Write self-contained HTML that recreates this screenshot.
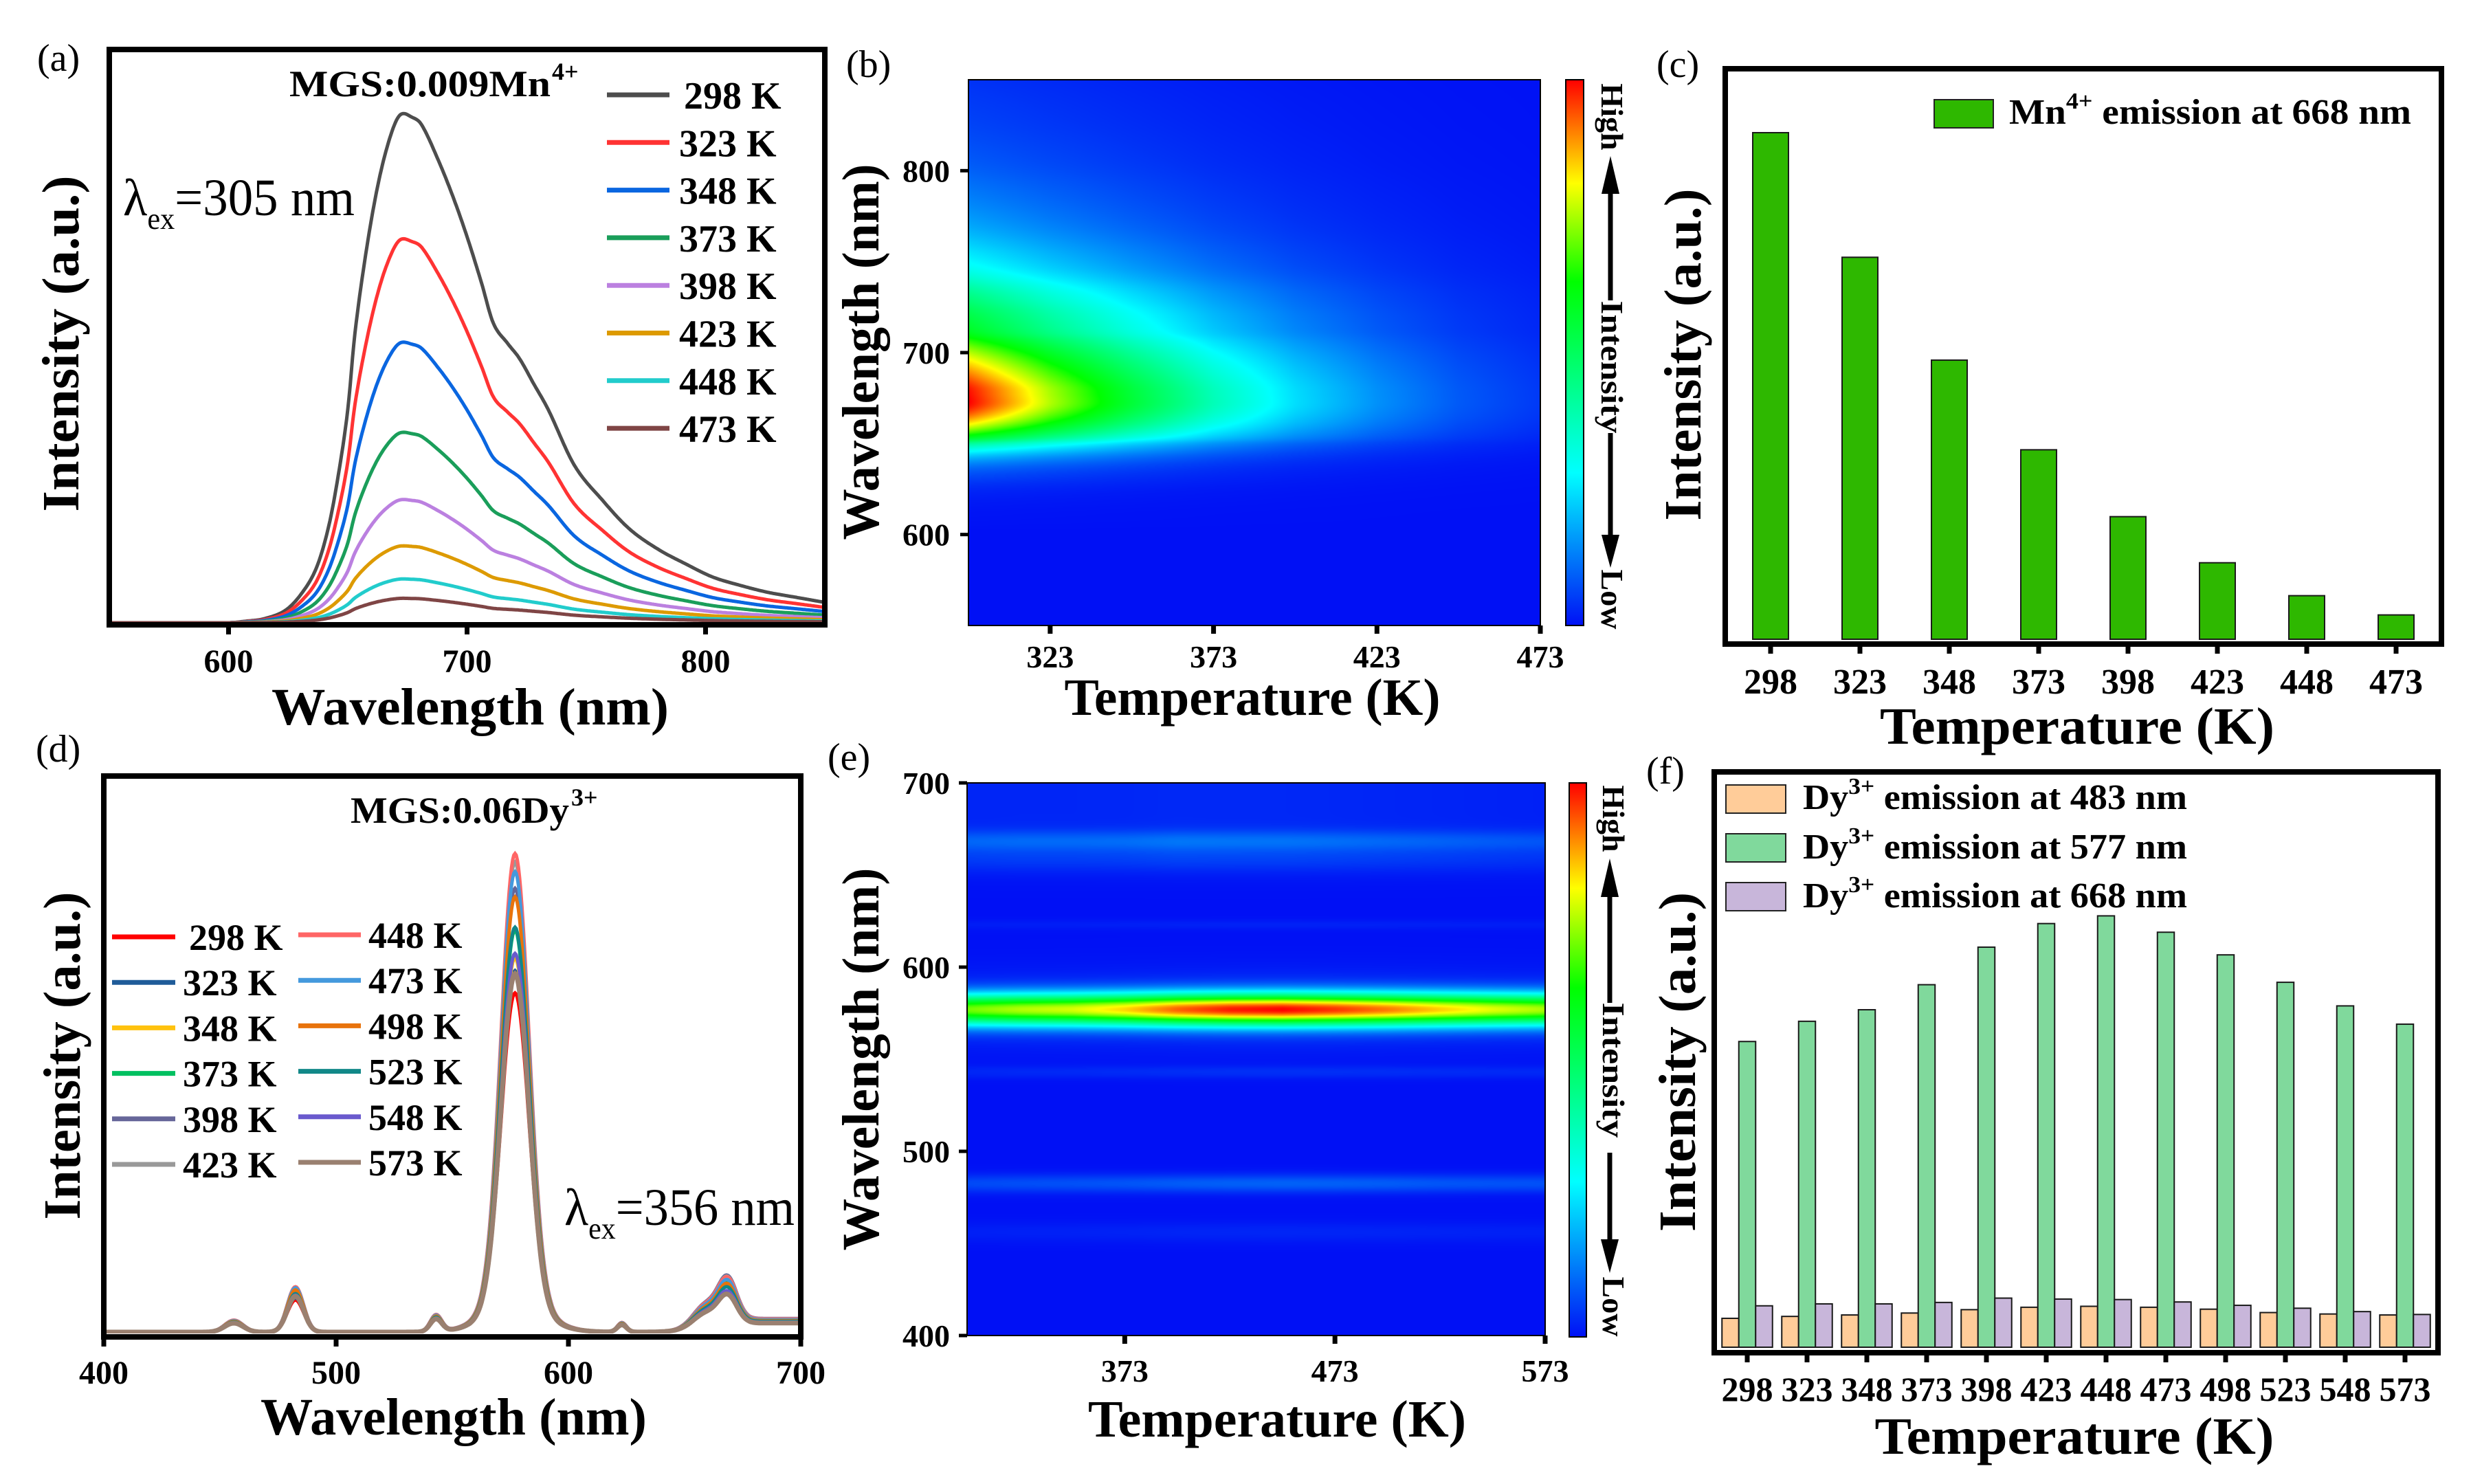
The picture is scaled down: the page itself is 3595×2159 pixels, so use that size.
<!DOCTYPE html>
<html><head><meta charset="utf-8">
<style>
html,body{margin:0;padding:0;background:#fff;}
#wrap{position:relative;width:3595px;height:2159px;overflow:hidden;background:#fff;}
canvas{position:absolute;}
svg{position:absolute;left:0;top:0;}
text{font-family:"Liberation Serif","Times New Roman",serif;font-weight:bold;fill:#000;}
.n{font-weight:normal;}
</style></head>
<body>
<div id="wrap">
<canvas id="cvB" width="832" height="794" style="left:1409px;top:116px"></canvas>
<canvas id="cvE" width="841" height="804" style="left:1407px;top:1139px"></canvas>
<svg id="fig" width="3595" height="2159" xmlns="http://www.w3.org/2000/svg">
<defs>
<clipPath id="clipA"><rect x="163" y="76" width="1033" height="829"/></clipPath>
<clipPath id="clipD"><rect x="155" y="1133" width="1006" height="807"/></clipPath>
<linearGradient id="jet" x1="0" y1="1" x2="0" y2="0">
<stop offset="0" stop-color="rgb(0,16,245)"/><stop offset="0.28" stop-color="rgb(0,255,255)"/>
<stop offset="0.45" stop-color="rgb(0,255,128)"/><stop offset="0.63" stop-color="rgb(0,255,0)"/>
<stop offset="0.81" stop-color="rgb(255,255,0)"/><stop offset="1" stop-color="rgb(255,0,0)"/>
</linearGradient>
</defs>

<g>
<text class="n" x="54" y="103" font-size="56">(a)</text>
<g id="curvesA" clip-path="url(#clipA)"></g>
<rect x="159" y="72" width="1041" height="837" fill="none" stroke="#000" stroke-width="8"/>
<g id="axisA"></g>
<text x="684" y="1054" font-size="76" text-anchor="middle" textLength="578" lengthAdjust="spacingAndGlyphs">Wavelength (nm)</text>
<text transform="translate(114,500) rotate(-90)" font-size="76" text-anchor="middle" textLength="489" lengthAdjust="spacingAndGlyphs">Intensity (a.u.)</text>
<text x="421" y="140" font-size="54" textLength="380" lengthAdjust="spacingAndGlyphs">MGS:0.009Mn</text>
<text x="803" y="116" font-size="36">4+</text>
<text class="n" x="179" y="313" font-size="76" textLength="337" lengthAdjust="spacingAndGlyphs">λ<tspan font-size="44" dy="20">ex</tspan><tspan dy="-20">=305 nm</tspan></text>
<g id="legendA"></g>
</g>

<g>
<text class="n" x="1231" y="112" font-size="56">(b)</text>
<rect x="1409" y="116" width="832" height="794" fill="none" stroke="#000" stroke-width="2"/>
<g id="axisB"></g>
<text x="1822" y="1040" font-size="76" text-anchor="middle" textLength="547" lengthAdjust="spacingAndGlyphs">Temperature (K)</text>
<text transform="translate(1278,512) rotate(-90)" font-size="76" text-anchor="middle" textLength="547" lengthAdjust="spacingAndGlyphs">Wavelength (nm)</text>
<rect x="2278" y="116" width="26" height="794" fill="url(#jet)" stroke="#000" stroke-width="2"/>
<text transform="translate(2330,170) rotate(90)" font-size="46" text-anchor="middle">High</text>
<text transform="translate(2330,534) rotate(90)" font-size="46" text-anchor="middle" textLength="193" lengthAdjust="spacingAndGlyphs">Intensity</text>
<text transform="translate(2330,872) rotate(90)" font-size="46" text-anchor="middle">Low</text>
<g>
<line x1="2343" y1="280" x2="2343" y2="437" stroke="#000" stroke-width="7"/>
<line x1="2343" y1="630" x2="2343" y2="780" stroke="#000" stroke-width="7"/>
<polygon points="2343,227 2330,282 2356,282" fill="#000"/>
<polygon points="2343,826 2330,778 2356,778" fill="#000"/>
</g>
</g>

<g>
<text class="n" x="2410" y="112" font-size="56">(c)</text>
<g id="barsC"></g>
<rect x="2510" y="100" width="1042" height="837" fill="none" stroke="#000" stroke-width="8"/>
<g id="axisC"></g>
<text x="3022" y="1082" font-size="76" text-anchor="middle" textLength="574" lengthAdjust="spacingAndGlyphs">Temperature (K)</text>
<text transform="translate(2474,516) rotate(-90)" font-size="76" text-anchor="middle" textLength="483" lengthAdjust="spacingAndGlyphs">Intensity (a.u.)</text>
<g>
<rect x="2814" y="145" width="86" height="41" fill="#2eb800" stroke="#222" stroke-width="2"/>
<text x="2923" y="180" font-size="52" textLength="585" lengthAdjust="spacingAndGlyphs">Mn<tspan font-size="34" dy="-22">4+</tspan><tspan dy="22"> emission at 668 nm</tspan></text>
</g>
</g>

<g>
<text class="n" x="52" y="1108" font-size="56">(d)</text>
<g id="curvesD" clip-path="url(#clipD)"></g>
<rect x="151" y="1129" width="1014" height="816" fill="none" stroke="#000" stroke-width="8"/>
<g id="axisD"></g>
<text x="660" y="2087" font-size="76" text-anchor="middle" textLength="562" lengthAdjust="spacingAndGlyphs">Wavelength (nm)</text>
<text transform="translate(116,1536) rotate(-90)" font-size="76" text-anchor="middle" textLength="477" lengthAdjust="spacingAndGlyphs">Intensity (a.u.)</text>
<text x="510" y="1197" font-size="54" textLength="318" lengthAdjust="spacingAndGlyphs">MGS:0.06Dy</text>
<text x="831" y="1172" font-size="36">3+</text>
<text class="n" x="821" y="1782" font-size="76" textLength="335" lengthAdjust="spacingAndGlyphs">λ<tspan font-size="44" dy="20">ex</tspan><tspan dy="-20">=356 nm</tspan></text>
<g id="legendD"></g>
</g>

<g>
<text class="n" x="1204" y="1120" font-size="56">(e)</text>
<rect x="1407" y="1139" width="841" height="804" fill="none" stroke="#000" stroke-width="2"/>
<g id="axisE"></g>
<text x="1858" y="2090" font-size="76" text-anchor="middle" textLength="550" lengthAdjust="spacingAndGlyphs">Temperature (K)</text>
<text transform="translate(1278,1541) rotate(-90)" font-size="76" text-anchor="middle" textLength="557" lengthAdjust="spacingAndGlyphs">Wavelength (nm)</text>
<rect x="2283" y="1139" width="25" height="806" fill="url(#jet)" stroke="#000" stroke-width="2"/>
<text transform="translate(2332,1191) rotate(90)" font-size="46" text-anchor="middle">High</text>
<text transform="translate(2332,1557) rotate(90)" font-size="46" text-anchor="middle" textLength="197" lengthAdjust="spacingAndGlyphs">Intensity</text>
<text transform="translate(2332,1901) rotate(90)" font-size="46" text-anchor="middle">Low</text>
<g>
<line x1="2342" y1="1303" x2="2342" y2="1459" stroke="#000" stroke-width="7"/>
<line x1="2342" y1="1677" x2="2342" y2="1805" stroke="#000" stroke-width="7"/>
<polygon points="2342,1249 2329,1305 2355,1305" fill="#000"/>
<polygon points="2342,1852 2329,1803 2355,1803" fill="#000"/>
</g>
</g>

<g>
<text class="n" x="2395" y="1140" font-size="56">(f)</text>
<g id="barsF"></g>
<rect x="2494" y="1123" width="1053" height="845" fill="none" stroke="#000" stroke-width="8"/>
<g id="axisF"></g>
<text x="3018" y="2115" font-size="76" text-anchor="middle" textLength="581" lengthAdjust="spacingAndGlyphs">Temperature (K)</text>
<text transform="translate(2466,1545) rotate(-90)" font-size="76" text-anchor="middle" textLength="494" lengthAdjust="spacingAndGlyphs">Intensity (a.u.)</text>
<g>
<rect x="2511" y="1142" width="87" height="41" fill="#ffcc99" stroke="#222" stroke-width="2"/>
<text x="2623" y="1177" font-size="52" textLength="559" lengthAdjust="spacingAndGlyphs">Dy<tspan font-size="34" dy="-22">3+</tspan><tspan dy="22"> emission at 483 nm</tspan></text>
<rect x="2511" y="1213" width="87" height="41" fill="#80d99c" stroke="#222" stroke-width="2"/>
<text x="2623" y="1249" font-size="52" textLength="559" lengthAdjust="spacingAndGlyphs">Dy<tspan font-size="34" dy="-22">3+</tspan><tspan dy="22"> emission at 577 nm</tspan></text>
<rect x="2511" y="1284" width="87" height="41" fill="#c8b6da" stroke="#222" stroke-width="2"/>
<text x="2623" y="1320" font-size="52" textLength="559" lengthAdjust="spacingAndGlyphs">Dy<tspan font-size="34" dy="-22">3+</tspan><tspan dy="22"> emission at 668 nm</tspan></text>
</g>
</g>
</svg>
</div>
<script>
// ---------- data ----------
const mnTemps = [298, 323, 348, 373, 398, 423, 448, 473];
const mnPeak = [100, 75.4, 55.1, 37.4, 24.2, 15.1, 8.6, 4.8];
const mnProfileNm = [550, 600, 607, 615, 624, 631, 637, 642, 646, 650, 653, 658, 663, 668, 672, 677, 681, 688, 694, 700, 706, 711, 717, 722, 728, 734, 745, 757, 768, 780, 792, 803, 815, 826, 838, 850];
const mnProfileVal = [0, 0, 0.003, 0.008, 0.025, 0.06, 0.11, 0.19, 0.29, 0.42, 0.57, 0.74, 0.87, 0.96, 1.0, 0.995, 0.98, 0.91, 0.84, 0.76, 0.67, 0.59, 0.55, 0.52, 0.47, 0.42, 0.31, 0.24, 0.185, 0.145, 0.115, 0.09, 0.073, 0.06, 0.05, 0.04];
const mnColors = ["#4d4d4d", "#ff3333", "#0a66e0", "#1a9e5a", "#bb80e0", "#dd9a00", "#22cccc", "#7f4545"];

const dyTemps = [298, 323, 348, 373, 398, 423, 448, 473, 498, 523, 548, 573];
const dy483 = [60, 64, 67, 71, 78, 83, 85, 83, 79, 72, 69, 67];
const dy577 = [635, 677, 701, 753, 831, 880, 896, 862, 815, 758, 709, 671];
const dy668 = [86, 90, 90, 93, 102, 100, 99, 94, 87, 81, 74, 68];
const dyColors = ["#ff0000", "#1f5c99", "#ffc20e", "#00c060", "#666699", "#999999", "#ff6666", "#4499dd", "#e8730c", "#118888", "#6a5acd", "#9a8070"];

const ticksA = [600, 700, 800];
const ticksD = [400, 500, 600, 700];
const ticksBy = [600, 700, 800];
const ticksBx = [323, 373, 423, 473];
const ticksEy = [400, 500, 600, 700];
const ticksEx = [373, 473, 573];

// ---------- helpers ----------
const NS = "http://www.w3.org/2000/svg";
function el(tag, parent) { const e = document.createElementNS(NS, tag); parent.appendChild(e); return e; }
function g(x, c, s) { return Math.exp(-(x - c) * (x - c) / (2 * s * s)); }
function mnProfile(l) {
  const X = mnProfileNm, Y = mnProfileVal, n = X.length;
  if (l <= X[0]) return 0;
  if (l >= X[n - 1]) return Y[n - 1];
  let i = 1; while (l > X[i]) i++;
  const i0 = i - 1, i1 = i;
  const m = k => { const a = Math.max(0, k - 1), b = Math.min(n - 1, k + 1); return (Y[b] - Y[a]) / (X[b] - X[a]); };
  const h = X[i1] - X[i0], t = (l - X[i0]) / h;
  const h00 = 2*t*t*t - 3*t*t + 1, h10 = t*t*t - 2*t*t + t, h01 = -2*t*t*t + 3*t*t, h11 = t*t*t - t*t;
  return Math.max(0, h00 * Y[i0] + h10 * h * m(i0) + h01 * Y[i1] + h11 * h * m(i1));
}
function dySpec(l, a483, a577, a668) {
  return a577 * (0.94 * g(l, 577, 6) + 0.06 * g(l, 577, 13)) + a483 * g(l, 482.5, 3.5)
    + a577 * 0.025 * g(l, 456, 4) + a577 * 0.035 * g(l, 543, 2.5) + a577 * 0.02 * g(l, 623, 2)
    + a668 * (0.75 * g(l, 668.5, 4) + 0.3 * g(l, 659, 5)) + a668 * 0.25 / (1 + Math.exp(-(l - 652) / 4));
}
function interp(arrT, arr, T) {
  if (T <= arrT[0]) return arr[0];
  for (let i = 1; i < arrT.length; i++) if (T <= arrT[i]) { const t = (T - arrT[i - 1]) / (arrT[i] - arrT[i - 1]); return arr[i - 1] + t * (arr[i] - arr[i - 1]); }
  return arr[arr.length - 1];
}
const jetStops = [[0, 0, 16, 245], [0.28, 0, 255, 255], [0.45, 0, 255, 128], [0.63, 0, 255, 0], [0.81, 255, 255, 0], [1, 255, 0, 0]];
function jet(v) {
  v = Math.max(0, Math.min(1, v));
  for (let i = 1; i < jetStops.length; i++) if (v <= jetStops[i][0]) {
    const a = jetStops[i - 1], b = jetStops[i], t = (v - a[0]) / (b[0] - a[0]);
    return [a[1] + t * (b[1] - a[1]), a[2] + t * (b[2] - a[2]), a[3] + t * (b[3] - a[3])];
  }
  return [255, 0, 0];
}
function xTick(parent, x, y0, len, label, ly, fs) {
  const t = el("line", parent);
  t.setAttribute("x1", x); t.setAttribute("x2", x); t.setAttribute("y1", y0); t.setAttribute("y2", y0 + len);
  t.setAttribute("stroke", "#000"); t.setAttribute("stroke-width", 7);
  
  
  const tx = el("text", parent);
  tx.setAttribute("x", x); tx.setAttribute("y", ly); tx.setAttribute("font-size", fs); tx.setAttribute("text-anchor", "middle");
  tx.textContent = label;
  
  
}
function yTick(parent, x0, y, label, lx, fs) {
  const t = el("line", parent);
  t.setAttribute("x1", x0 - 12); t.setAttribute("x2", x0); t.setAttribute("y1", y); t.setAttribute("y2", y);
  t.setAttribute("stroke", "#000"); t.setAttribute("stroke-width", 5);
  
  
  const tx = el("text", parent);
  tx.setAttribute("x", lx); tx.setAttribute("y", y + 16); tx.setAttribute("font-size", fs); tx.setAttribute("text-anchor", "end");
  tx.textContent = label;
  
  
}

// ---------- panel a ----------
const xA = l => 159 + (l - 550) / 300 * 1041;
const yA = v => 906 - v / 100 * 739;
const cA = document.getElementById("curvesA");
mnTemps.forEach((T, i) => {
  let d = "";
  for (let l = 550; l <= 850; l += 0.5) d += (l === 550 ? "M" : "L") + xA(l).toFixed(1) + "," + yA(mnPeak[i] * mnProfile(l)).toFixed(1);
  const p = el("path", cA);
  p.setAttribute("d", d); p.setAttribute("fill", "none"); p.setAttribute("stroke", mnColors[i]); p.setAttribute("stroke-width", 5);
  
  
});
const axA = document.getElementById("axisA");
ticksA.forEach(v => xTick(axA, xA(v), 909, 14, v, 978, 48));
const lgA = document.getElementById("legendA");
mnTemps.forEach((T, i) => {
  const y = 138 + i * 69.3;
  const ln = el("line", lgA);
  ln.setAttribute("x1", 883); ln.setAttribute("x2", 974); ln.setAttribute("y1", y); ln.setAttribute("y2", y);
  ln.setAttribute("stroke", mnColors[i]); ln.setAttribute("stroke-width", 7);
  
  
  const tx = el("text", lgA);
  tx.setAttribute("x", i === 0 ? 995 : 988); tx.setAttribute("y", y + 20); tx.setAttribute("font-size", 56);
  tx.textContent = T + " K";
  
  
});

// ---------- panel b ----------
(function () {
  const cv = document.getElementById("cvB"), ctx = cv.getContext("2d");
  const W = cv.width, H = cv.height, img = ctx.createImageData(W, H);
  const prof = [];
  for (let py = 0; py < H; py++) prof.push(mnProfile(850 - (py + 0.5) / H * 300));
  for (let px = 0; px < W; px++) {
    const T = 298 + (px + 0.5) / W * 175;
    const amp = interp(mnTemps, mnPeak, T);
    for (let py = 0; py < H; py++) {
      const c = jet(amp * prof[py] / 100);
      const k = (py * W + px) * 4;
      img.data[k] = c[0]; img.data[k + 1] = c[1]; img.data[k + 2] = c[2]; img.data[k + 3] = 255;
    }
  }
  ctx.putImageData(img, 0, 0);
})();
const axB = document.getElementById("axisB");
const xB = T => 1409 + (T - 298) / 175 * 832;
const yB = l => 910 - (l - 550) / 300 * 794;
ticksBx.forEach(v => xTick(axB, xB(v), 910, 12, v, 971, 46));
ticksBy.forEach(v => yTick(axB, 1409, yB(v), v, 1382, 46));

// ---------- panel c ----------
const xC = i => 2576 + i * 130;
const yC = v => 930 - v * 7.37;
const bC = document.getElementById("barsC");
mnTemps.forEach((T, i) => {
  const r = el("rect", bC);
  r.setAttribute("x", xC(i) - 26); r.setAttribute("y", yC(mnPeak[i])); r.setAttribute("width", 52); r.setAttribute("height", 930 - yC(mnPeak[i]));
  r.setAttribute("fill", "#2eb800"); r.setAttribute("stroke", "#1a1a1a"); r.setAttribute("stroke-width", 2);
  
  
});
const axC = document.getElementById("axisC");
mnTemps.forEach((T, i) => xTick(axC, xC(i), 937, 14, T, 1009, 52));

// ---------- panel d ----------
const xD = l => 151 + (l - 400) / 300 * 1014;
const yD = v => 1938 - v * 0.777;
const cD = document.getElementById("curvesD");
dyTemps.forEach((T, i) => {
  let d = "";
  for (let l = 400; l <= 700; l += 0.5) d += (l === 400 ? "M" : "L") + xD(l).toFixed(1) + "," + yD(dySpec(l, dy483[i], dy577[i], dy668[i])).toFixed(1);
  const p = el("path", cD);
  p.setAttribute("d", d); p.setAttribute("fill", "none"); p.setAttribute("stroke", dyColors[i]); p.setAttribute("stroke-width", i === 11 ? 7 : 5);
  
  
});
const axD = document.getElementById("axisD");
ticksD.forEach(v => xTick(axD, xD(v), 1945, 14, v, 2013, 48));
const lgD = document.getElementById("legendD");
dyTemps.forEach((T, i) => {
  const col = i < 6 ? 0 : 1, row = i % 6;
  const y = (col === 0 ? 1363 : 1360) + row * 66.2;
  const ln = el("line", lgD);
  ln.setAttribute("x1", col ? 434 : 163); ln.setAttribute("x2", col ? 525 : 255); ln.setAttribute("y1", y); ln.setAttribute("y2", y);
  ln.setAttribute("stroke", dyColors[i]); ln.setAttribute("stroke-width", 7);
  
  
  const tx = el("text", lgD);
  tx.setAttribute("x", col ? 536 : (i === 0 ? 275 : 266)); tx.setAttribute("y", y + 19); tx.setAttribute("font-size", 54);
  tx.textContent = T + " K";
  
  
});

// ---------- panel e ----------
(function () {
  const cv = document.getElementById("cvE"), ctx = cv.getContext("2d");
  const W = cv.width, H = cv.height, img = ctx.createImageData(W, H);
  const vmax = Math.max(...dy577);
  for (let px = 0; px < W; px++) {
    const T = 298 + (px + 0.5) / W * 275;
    const a1 = interp(dyTemps, dy483, T), a2 = interp(dyTemps, dy577, T), a3 = interp(dyTemps, dy668, T);
    for (let py = 0; py < H; py++) {
      const l = 700 - (py + 0.5) / H * 300;
      const c = jet(dySpec(l, a1, a2, a3) / vmax);
      const k = (py * W + px) * 4;
      img.data[k] = c[0]; img.data[k + 1] = c[1]; img.data[k + 2] = c[2]; img.data[k + 3] = 255;
    }
  }
  ctx.putImageData(img, 0, 0);
})();
const axE = document.getElementById("axisE");
const xE = T => 1407 + (T - 298) / 275 * 841;
const yE = l => 1943 - (l - 400) / 300 * 804;
ticksEx.forEach(v => xTick(axE, xE(v), 1943, 12, v, 2010, 46));
ticksEy.forEach(v => yTick(axE, 1407, yE(v), v, 1382, 46));

// ---------- panel f ----------
const xF = i => 2542 + i * 87;
const yF = v => 1960 - v * 0.7004;
const bF = document.getElementById("barsF");
const fSeries = [[dy483, "#ffcc99", -24.5, "483"], [dy577, "#80d99c", 0, "577"], [dy668, "#c8b6da", 24.5, "668"]];
dyTemps.forEach((T, i) => {
  fSeries.forEach(s => {
    const r = el("rect", bF);
    r.setAttribute("x", xF(i) + s[2] - 12.25); r.setAttribute("y", yF(s[0][i])); r.setAttribute("width", 24.5); r.setAttribute("height", 1960 - yF(s[0][i]));
    r.setAttribute("fill", s[1]); r.setAttribute("stroke", "#1a1a1a"); r.setAttribute("stroke-width", 2);
    
    
  });
});
const axF = document.getElementById("axisF");
dyTemps.forEach((T, i) => xTick(axF, xF(i), 1968, 14, T, 2038, 50));
</script>
</body></html>
